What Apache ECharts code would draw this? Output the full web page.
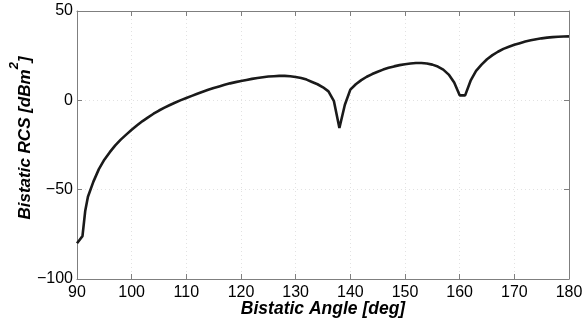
<!DOCTYPE html>
<html>
<head>
<meta charset="utf-8">
<script src="https://cdn.jsdelivr.net/npm/echarts@6/dist/echarts.min.js"></script>
<style>
html,body{margin:0;padding:0;background:#fff;}
#chart{width:584px;height:325px;}
</style>
</head>
<body>
<div id="chart"></div>
<script>
// Bistatic angle (deg) and bistatic RCS (dBm^2)
const angles = [90, 90.5, 91, 91.5, 92, 93, 94, 95, 96, 97, 98, 99, 100,
  101, 102, 103, 104, 105, 106, 107, 108, 109, 110,
  111, 112, 113, 114, 115, 116, 117, 118, 119, 120,
  121, 122, 123, 124, 125, 126, 127, 128, 129, 130,
  131, 132, 133, 134, 135, 136, 137, 138, 139, 140,
  141, 142, 143, 144, 145, 146, 147, 148, 149, 150,
  151, 152, 153, 154, 155, 156, 157, 158, 159, 160,
  161, 162, 163, 164, 165, 166, 167, 168, 169, 170,
  171, 172, 173, 174, 175, 176, 177, 178, 179, 180];
const rcs = [-80, -78, -76, -62, -54, -45.5, -38.5, -33.2, -29, -25.2, -22, -19.2, -16.5,
  -14, -11.6, -9.5, -7.5, -5.7, -4.1, -2.6, -1.2, 0.1, 1.3,
  2.5, 3.7, 4.8, 5.9, 6.9, 7.8, 8.7, 9.5, 10.2, 10.8,
  11.4, 12, 12.5, 12.9, 13.3, 13.5, 13.7, 13.7, 13.5, 13.1,
  12.5, 11.6, 10.3, 9, 7.3, 5, -0.5, -15.5, -2.5, 6,
  9, 11.3, 13.2, 14.7, 16, 17.2, 18.2, 19, 19.7, 20.2,
  20.6, 20.9, 20.9, 20.6, 20, 18.9, 17.2, 14.4, 10, 2.8,
  2.8, 11, 16.5, 20, 23, 25.3, 27.2, 28.8, 30, 31.1,
  32, 32.9, 33.6, 34.2, 34.7, 35.1, 35.4, 35.6, 35.7, 35.8];
const xTitle = 'Bistatic Angle [deg]';
const yTitle = 'Bistatic RCS [dBm{sup|2}]';

const FONT = '"Liberation Sans", Arial, Helvetica, sans-serif';
const axisGrey = '#7f7f7f';
const chart = echarts.init(document.getElementById('chart'), null, {renderer: 'canvas'});
const splitStyle = {show: true, lineStyle: {color: '#e2e2e2', type: [1, 3], width: 1}};
chart.setOption({
  animation: false,
  backgroundColor: '#fff',
  grid: {left: 77, right: 15, top: 11, bottom: 46, containLabel: false, outerBoundsMode: 'none'},
  xAxis: [{
    type: 'value', min: 90, max: 180, interval: 10, position: 'bottom',
    name: xTitle, nameLocation: 'middle', nameGap: 21, nameMoveOverlap: false,
    nameTextStyle: {fontFamily: FONT, fontSize: 17.5, fontWeight: 'bold', fontStyle: 'italic', color: '#000'},
    axisLine: {show: true, onZero: false, lineStyle: {color: axisGrey, width: 1}},
    axisTick: {show: true, inside: true, length: 5, lineStyle: {color: axisGrey}},
    axisLabel: {fontFamily: FONT, fontSize: 16, color: '#000', margin: 6},
    splitLine: splitStyle
  }, {
    type: 'value', min: 90, max: 180, interval: 10, position: 'top',
    axisLine: {show: true, onZero: false, lineStyle: {color: axisGrey, width: 1}},
    axisTick: {show: true, inside: true, length: 5, lineStyle: {color: axisGrey}},
    axisLabel: {show: false}, splitLine: {show: false}
  }],
  yAxis: [{
    type: 'value', min: -100, max: 50, interval: 50, position: 'left',
    name: yTitle, nameLocation: 'middle', nameGap: 35, nameRotate: 90, nameMoveOverlap: false,
    nameTextStyle: {fontFamily: FONT, fontSize: 17, fontWeight: 'bold', fontStyle: 'italic', color: '#000',
      lineHeight: 34, padding: [0, 0, 0, 14],
      rich: {sup: {fontFamily: FONT, fontSize: 13, fontWeight: 'bold', fontStyle: 'italic', color: '#000', verticalAlign: 'top', lineHeight: 13}}},
    axisLine: {show: true, onZero: false, lineStyle: {color: axisGrey, width: 1}},
    axisTick: {show: true, inside: true, length: 5, lineStyle: {color: axisGrey}},
    axisLabel: {fontFamily: FONT, fontSize: 16, color: '#000', margin: 4,
      formatter: v => (v < 0 ? '\u2212' + Math.abs(v) : String(v))},
    splitLine: splitStyle
  }, {
    type: 'value', min: -100, max: 50, interval: 50, position: 'right',
    axisLine: {show: true, onZero: false, lineStyle: {color: axisGrey, width: 1}},
    axisTick: {show: true, inside: true, length: 5, lineStyle: {color: axisGrey}},
    axisLabel: {show: false}, splitLine: {show: false}
  }],
  series: [{
    type: 'line',
    data: angles.map((a, i) => [a, rcs[i]]),
    showSymbol: false,
    smooth: false,
    lineStyle: {color: '#1a1a1a', width: 2.6},
    xAxisIndex: 0, yAxisIndex: 0
  }]
});
</script>
</body>
</html>
